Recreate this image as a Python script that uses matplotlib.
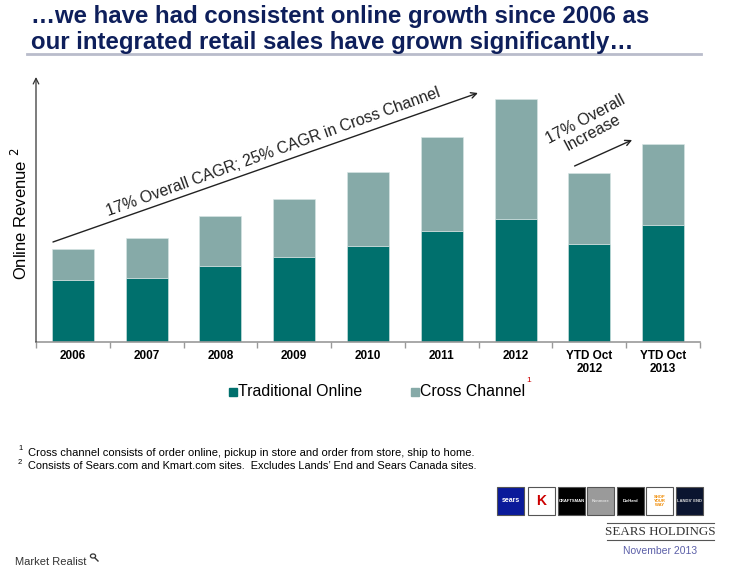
import matplotlib
matplotlib.use("Agg")
import matplotlib.pyplot as plt
from matplotlib.patches import Rectangle, Circle
from matplotlib.lines import Line2D
import numpy as np

plt.rcParams['font.family'] = ['Liberation Sans', 'DejaVu Sans']

categories = ["2006", "2007", "2008", "2009", "2010", "2011", "2012", "YTD Oct\n2012", "YTD Oct\n2013"]
traditional = [61.7, 64.0, 75.7, 85.0, 96.0, 111.4, 122.7, 98.4, 117.0]
cross_channel = [31.0, 39.7, 50.0, 58.0, 74.0, 93.3, 120.0, 70.6, 80.7]
series_names = ["Traditional Online", "Cross Channel"]

DARK = "#00706D"
LIGHT = "#86AAA8"
NAVY = "#0E1F5B"

W, H = 739, 578
fig = plt.figure(figsize=(W / 100, H / 100), dpi=100)

def fx(px):
    return px / W

def fy(py):
    return 1 - py / H

# Title
fig.text(fx(31), fy(17), "\u2026we have had consistent online growth since 2006 as",
         fontsize=17.3, fontweight='bold', color=NAVY, va='center', ha='left')
fig.text(fx(31), fy(42), "our integrated retail sales have grown significantly\u2026",
         fontsize=17.3, fontweight='bold', color=NAVY, va='center', ha='left')
fig.add_artist(Line2D([fx(27), fx(701)], [fy(54), fy(54)], color="#B9BCCB", lw=2))

# Axes
ax_left, ax_right, ax_bottom, ax_top = 36, 700, 342, 77
ax = fig.add_axes([fx(ax_left), fy(ax_bottom), fx(ax_right - ax_left), (ax_bottom - ax_top) / H])
x = np.arange(len(categories))
ax.bar(x, traditional, width=0.57, color=DARK, edgecolor='#d8e6e5', linewidth=0.4, label=series_names[0])
ax.bar(x, cross_channel, width=0.57, bottom=traditional, color=LIGHT, edgecolor='#d8e6e5',
       linewidth=0.4, label=series_names[1])
ax.set_xlim(-0.5, len(categories) - 0.5)
ax.set_ylim(0, 265)
for s in ['top', 'right', 'left']:
    ax.spines[s].set_visible(False)
ax.spines['bottom'].set_color('#999999')
ax.spines['bottom'].set_linewidth(1.2)
ax.set_yticks([])
ax.set_xticks(x)
ax.set_xticklabels(categories, fontsize=8.5, fontweight='bold', linespacing=1.1)
ax.tick_params(axis='x', which='major', length=0, pad=5.5)
ax.set_xticks(np.arange(-0.5, len(categories), 1.0), minor=True)
ax.tick_params(axis='x', which='minor', length=4, color='#999999', direction='out', width=1)

# y axis arrow
ax.annotate("", xy=(-0.5, 265), xytext=(-0.5, 0), xycoords='data',
            arrowprops=dict(arrowstyle='->', color='#333333', lw=0.9, shrinkA=0, shrinkB=0),
            annotation_clip=False)
fig.text(fx(20), fy(214), "Online Revenue $^{2}$", rotation=90, fontsize=12, va='center', ha='center')

# Annotations
ax.annotate("", xy=(5.49, 249), xytext=(-0.27, 100),
            arrowprops=dict(arrowstyle='->', color='#222222', lw=1.0, shrinkA=0, shrinkB=0),
            annotation_clip=False)
ax.text(2.72, 190, "17% Overall CAGR; 25% CAGR in Cross Channel", rotation=19.8,
        fontsize=11.4, ha='center', va='center', color='#222222', rotation_mode='anchor')
ax.annotate("", xy=(7.58, 202), xytext=(6.80, 176),
            arrowprops=dict(arrowstyle='->', color='#222222', lw=1.0, shrinkA=0, shrinkB=0),
            annotation_clip=False)
ax.text(7.00, 216, "17% Overall\nIncrease", rotation=28, fontsize=11.5, ha='center', va='center',
        color='#222222', rotation_mode='anchor', linespacing=1.0, multialignment='center')

# Legend (manual)
fig.add_artist(Rectangle((fx(229), fy(396)), fx(8), 8 / H, color=DARK))
fig.text(fx(238), fy(392), series_names[0], fontsize=11.4, va='center', ha='left')
fig.add_artist(Rectangle((fx(411), fy(396)), fx(8), 8 / H, color=LIGHT))
fig.text(fx(420), fy(392), series_names[1], fontsize=11.4, va='center', ha='left')
fig.text(fx(526), fy(381), "1", fontsize=6, color='#cc0000', va='center', ha='left')

# Footnotes
fig.text(fx(18), fy(449), "1", fontsize=5.5, va='center', ha='left')
fig.text(fx(28), fy(453), "Cross channel consists of order online, pickup in store and order from store, ship to home.",
         fontsize=8, va='center', ha='left')
fig.text(fx(18), fy(462), "2", fontsize=5.5, va='center', ha='left')
fig.text(fx(28), fy(466), "Consists of Sears.com and Kmart.com sites.  Excludes Lands\u2019 End and Sears Canada sites.",
         fontsize=7.9, va='center', ha='left')

# Logos
logos = [(497, "#0a1a9a", "sears", "white"), (528, "white", "K", "#cc0000"), (558, "black", "CRAFTSMAN", "white"),
         (587, "#9a9a9a", "Kenmore", "#dddddd"), (617, "black", "DieHard", "white"),
         (646, "white", "SHOP\nYOUR\nWAY", "#f08a00"), (676, "#0b1530", "LANDS' END", "#dddddd")]
for lx, bg, txt, tc in logos:
    fig.add_artist(Rectangle((fx(lx), fy(515)), fx(27), 28 / H, facecolor=bg, edgecolor='#555555', lw=0.8))
    fs = 3 if len(txt) > 6 else 5
    if txt == "K":
        fs = 10
    fig.text(fx(lx + 13.5), fy(501), txt, fontsize=fs, color=tc, ha='center', va='center',
             fontweight='bold', linespacing=0.9)

fig.add_artist(Line2D([fx(607), fx(714)], [fy(523), fy(523)], color='#555555', lw=0.8))
fig.add_artist(Line2D([fx(607), fx(714)], [fy(540), fy(540)], color='#555555', lw=0.8))
fig.text(fx(660), fy(532), "SEARS HOLDINGS", fontsize=9.4, family=['Liberation Serif', 'DejaVu Serif'],
         color='#333333', ha='center', va='center')
fig.text(fx(660), fy(551), "November 2013", fontsize=7.5, color='#5b5fa8', ha='center', va='center')

fig.text(fx(15), fy(562), "Market Realist", fontsize=8, color='#333333', ha='left', va='center')
# magnifier icon (no font glyph available)
fig.add_artist(Circle((fx(93), fy(556)), 2.6 / W, facecolor='none', edgecolor='#333333', lw=0.9,
                      transform=fig.transFigure))
fig.add_artist(Line2D([fx(95), fx(98)], [fy(558), fy(561)], color='#333333', lw=1.0))

fig.savefig("out.png", dpi=100)
